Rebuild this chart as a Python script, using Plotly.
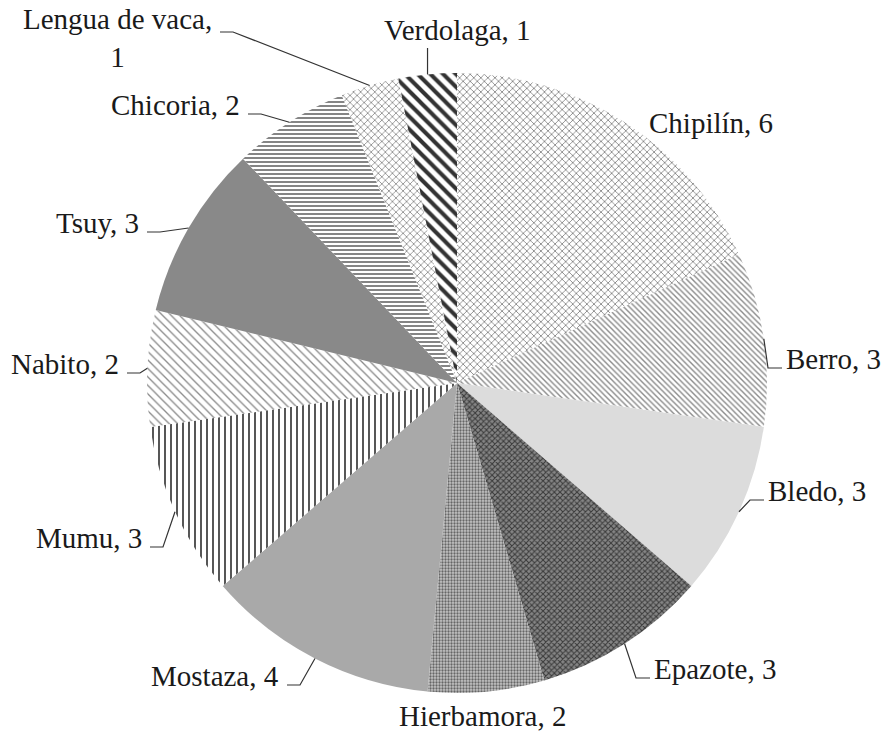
import math
import plotly.graph_objects as go

# ---- data ----
labels = ["Chipilín", "Berro", "Bledo", "Epazote", "Hierbamora", "Mostaza",
          "Mumu", "Nabito", "Tsuy", "Chicoria", "Lengua de vaca", "Verdolaga"]
values = [6, 3, 3, 3, 2, 4, 3, 2, 3, 2, 1, 1]

# ---- styles (fill patterns per slice) ----
bg_colors = ["#ffffff", "#ffffff", "#dcdcdc", "#858585", "#c4c4c4", "#a9a9a9",
             "#ffffff", "#ffffff", "#898989", "#ffffff", "#ffffff", "#ffffff"]
pat_shapes = ["x", "\\", "", "x", ".", "", "|", "\\", "", "-", "x", "\\"]
pat_fg = ["#8a8a8a", "#8a8a8a", "#dcdcdc", "#3a3a3a", "#666666", "#a9a9a9",
          "#444444", "#8a8a8a", "#898989", "#666666", "#8a8a8a", "#333333"]
pat_size = [5, 4, 4, 4, 3, 4, 6, 6, 4, 4, 5, 9]
pat_solid = [0.32, 0.35, 0.3, 0.45, 0.45, 0.3, 0.3, 0.22, 0.3, 0.4, 0.3, 0.45]

# ---- layout (pixel geometry of the page) ----
W, H = 883, 733
CX, CY, R = 457, 383, 310
FONT = dict(family="Liberation Serif", size=29, color="#1a1a1a")

# label anchor side, x, y (cap centre, px) and whether a leader line is drawn
label_layout = [
    ("left", 648, 123, False),
    ("left", 785, 359, True),
    ("left", 767, 491, True),
    ("left", 653, 669, True),
    ("center", 483, 716, False),
    ("right", 280, 676, True),
    ("right", 143, 538, True),
    ("right", 120, 364, True),
    ("right", 140, 223, True),
    ("right", 241, 105, True),
    ("right", 213, 38, True),
    ("center", 457, 30, True),
]


def px(x):
    return x / W


def py(y):
    return 1 - y / H


fig = go.Figure(go.Pie(
    labels=labels,
    values=values,
    sort=False,
    direction="clockwise",
    rotation=0,
    textinfo="none",
    hoverinfo="label+value",
    domain=dict(x=[px(CX - R), px(CX + R)], y=[py(CY + R), py(CY - R)]),
    marker=dict(
        colors=bg_colors,
        line=dict(color="white", width=0),
        pattern=dict(shape=pat_shapes, fgcolor=pat_fg, bgcolor=bg_colors,
                     size=pat_size, solidity=pat_solid, fillmode="replace"),
    ),
    showlegend=False,
))

total = sum(values)
cum = 0
annotations = []
shapes = []
for lab, v, (side, lx, ly, leader) in zip(labels, values, label_layout):
    theta = 2 * math.pi * (cum + v / 2) / total
    cum += v
    rx = CX + R * math.sin(theta)
    ry = CY - R * math.cos(theta)
    text = f"{lab}, {v}"
    if lab == "Lengua de vaca":
        text = f"{lab},<br>{v}"
    annotations.append(dict(
        x=px(lx), y=py(ly), xref="paper", yref="paper",
        text=text, showarrow=False, xanchor=side, yanchor="middle",
        align="center", font=FONT, borderpad=0,
    ))
    if leader:
        if side == "left":
            ys = ly + 9
            path = f"M {px(lx - 3)},{py(ys)} L {px(lx - 17)},{py(ys)} L {px(rx)},{py(ry)}"
        elif side == "right":
            ys = ly + 9 if lab != "Lengua de vaca" else 32
            path = f"M {px(lx + 7)},{py(ys)} L {px(lx + 20)},{py(ys)} L {px(rx)},{py(ry)}"
        else:
            path = f"M {px(rx)},{py(ly + 18)} L {px(rx)},{py(ry)}"
        shapes.append(dict(type="path", xref="paper", yref="paper", path=path,
                           line=dict(color="#333333", width=1.2)))

fig.update_layout(
    width=W, height=H,
    margin=dict(l=0, r=0, t=0, b=0),
    paper_bgcolor="white",
    plot_bgcolor="white",
    annotations=annotations,
    shapes=shapes,
)

fig.write_html("out.html", config={"displayModeBar": False},
               post_script="document.body.style.margin='0';document.body.style.overflow='hidden';")
